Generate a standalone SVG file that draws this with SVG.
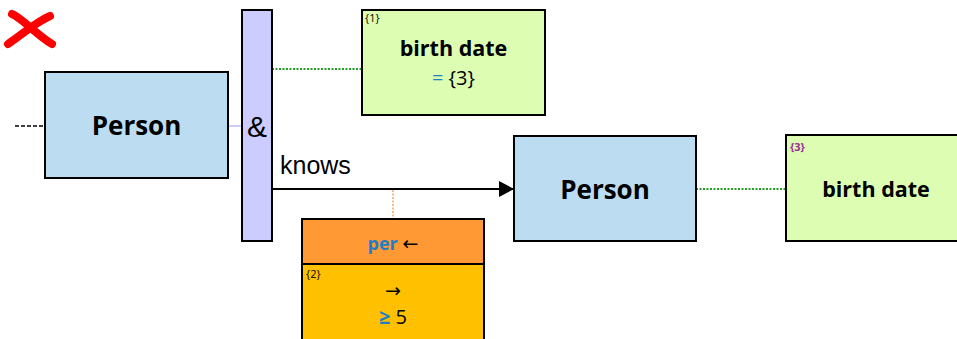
<svg xmlns="http://www.w3.org/2000/svg" width="957" height="339" viewBox="0 0 957 339">
<style>
.box{stroke:#000;stroke-width:2}
.person{fill:#BBDCF1}
.green{fill:#DDFDB3}
.bt{font-family:"Open Sans","Noto Sans",sans-serif;font-weight:bold;fill:#000;text-anchor:middle}
.ar{font-family:"Liberation Sans",Arial,sans-serif;fill:#000}
.sm{font-family:"Open Sans","Noto Sans",sans-serif;font-size:11px}
</style>
<defs>
<marker id="arr" markerWidth="15" markerHeight="16" refX="15" refY="8" orient="auto" markerUnits="userSpaceOnUse">
<path d="M0,0 L15,8 L0,16 Z" fill="#000"/>
</marker>
</defs>
<g id="cross">
<path d="M12,14 C22,18 38,36 52,44" stroke="#FF0000" stroke-width="8" fill="none" stroke-linecap="round"/>
<path d="M50,16 C36,22 20,36 8,44" stroke="#FF0000" stroke-width="8" fill="none" stroke-linecap="round"/>
</g>
<g id="connectors">
<line x1="15" y1="126" x2="45" y2="126" stroke="#000" stroke-width="1.5" stroke-dasharray="4,2"/>
<line x1="228" y1="126" x2="242" y2="126" stroke="#CCCCFF" stroke-width="2"/>
<line x1="272" y1="69" x2="362" y2="69" stroke="#22A022" stroke-width="2" stroke-dasharray="2,1.5"/>
<line x1="272" y1="189" x2="514" y2="189" stroke="#000" stroke-width="2" marker-end="url(#arr)"/>
<line x1="393" y1="190" x2="393" y2="219" stroke="#F4A460" stroke-width="1.5" stroke-dasharray="2,1.5"/>
<line x1="696" y1="189" x2="786" y2="189" stroke="#22A022" stroke-width="2" stroke-dasharray="2,1.5"/>
<text class="ar" x="280" y="174" font-size="25">knows</text>
</g>
<g id="person1">
<rect class="box person" x="45" y="72" width="183" height="106"/>
<text class="bt" x="136.5" y="135" font-size="26">Person</text>
</g>
<g id="and">
<rect class="box" x="242" y="10" width="30" height="231" fill="#CCCCFF"/>
<text class="ar" x="257" y="137" font-size="30" text-anchor="middle">&amp;</text>
</g>
<g id="birthdate1">
<rect class="box green" x="362" y="10" width="183" height="105"/>
<text class="sm" x="365" y="22" fill="#000">{1}</text>
<text class="bt" x="453.5" y="56" font-size="21.5">birth date</text>
<text x="453.5" y="85" font-size="20" font-family="'Open Sans','Noto Sans',sans-serif" text-anchor="middle"><tspan fill="#1F7FC4">=</tspan> {3}</text>
</g>
<g id="person2">
<rect class="box person" x="514" y="136" width="182" height="105"/>
<text class="bt" x="605" y="199" font-size="26">Person</text>
</g>
<g id="birthdate2">
<rect class="box green" x="786" y="135" width="182" height="106"/>
<text class="sm" x="790" y="151" fill="#9B2F9B" font-weight="bold">{3}</text>
<text class="bt" x="876" y="197" font-size="21.5">birth date</text>
</g>
<g id="per">
<rect class="box" x="302" y="219" width="182" height="45" fill="#FF9933"/>
<rect class="box" x="302" y="264" width="182" height="80" fill="#FFC000"/>
<text x="393" y="250" font-size="18" font-family="'Open Sans','Noto Sans',sans-serif" text-anchor="middle"><tspan fill="#1F7FC4" font-weight="bold">per</tspan> <tspan font-family="'DejaVu Sans',sans-serif" font-size="19">←</tspan></text>
<text class="sm" x="306" y="278" fill="#000">{2}</text>
<text x="393" y="297" font-size="19" font-family="'DejaVu Sans',sans-serif" text-anchor="middle">→</text>
<text x="393" y="324" font-size="20" font-family="'Open Sans','Noto Sans',sans-serif" text-anchor="middle"><tspan fill="#1F7FC4" font-weight="bold">≥</tspan> 5</text>
</g>
</svg>
